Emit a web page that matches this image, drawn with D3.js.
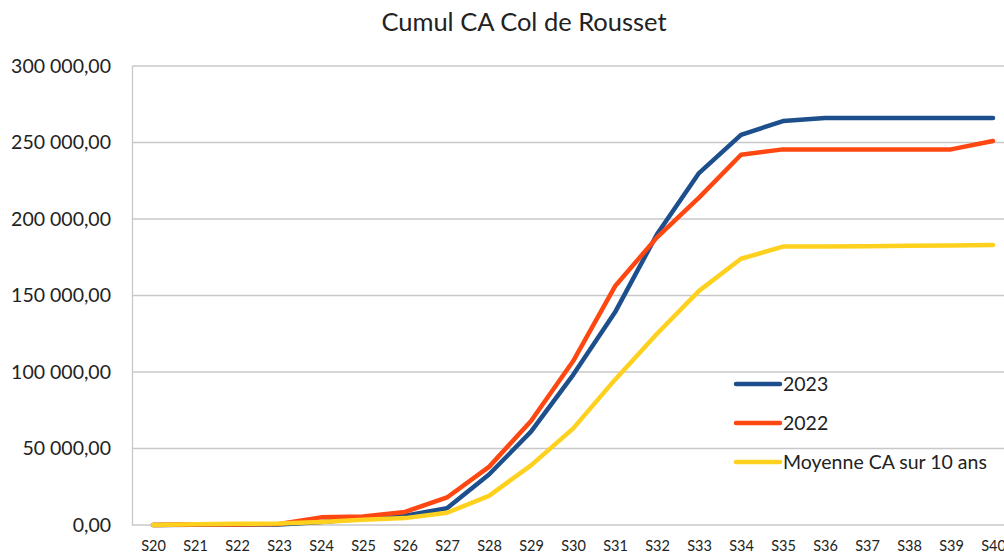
<!DOCTYPE html>
<html>
<head>
<meta charset="utf-8">
<script src="https://cdn.jsdelivr.net/npm/d3@7"></script>
<style>
  body { margin: 0; background: #fff; overflow: hidden; }
  svg { display: block; font-family: Lato, "Open Sans", sans-serif; }
</style>
</head>
<body>
<div id="chart"></div>
<script>
// weeks on the x axis
let weeks = ["S20", "S21", "S22", "S23", "S24", "S25", "S26", "S27", "S28", "S29", "S30",
             "S31", "S32", "S33", "S34", "S35", "S36", "S37", "S38", "S39", "S40"]

// cumulative turnover per series
let ca2023 = [0, 200, 300, 400, 2000, 4000, 6000, 11000, 33000, 61000, 98000,
              139000, 190000, 230000, 255000, 264000, 266000, 266000, 266000, 266000, 266000]
let ca2022 = [0, 300, 400, 700, 5000, 5500, 8500, 18000, 38000, 68000, 107000,
              156000, 188000, 214000, 242000, 245500, 245500, 245500, 245500, 245500, 251000]
let caMoyenne = [0, 500, 800, 1000, 2000, 3500, 4500, 8000, 19000, 39000, 63000,
                 95000, 125000, 153000, 174000, 182000, 182000, 182200, 182500, 182700, 183000]

let yTicks = [0, 50000, 100000, 150000, 200000, 250000, 300000]
let seriesNames = ["2023", "2022", "Moyenne CA sur 10 ans"]
let seriesColors = ["#1c4f8c", "#ff4712", "#ffd11f"]

let width = 1004, height = 555
let margin = {top: 66, right: -10, bottom: 30, left: 132}

let svg = d3.select("#chart").append("svg")
    .attr("width", width)
    .attr("height", height)

let x = d3.scalePoint()
    .domain(weeks)
    .range([margin.left, width - margin.right])
    .padding(0.5)

let y = d3.scaleLinear()
    .domain([0, 300000])
    .range([height - margin.bottom, margin.top])

let fmt = v => d3.format(",.2f")(v).replace(/,/g, " ").replace(".", ",")

// title
svg.append("text")
    .attr("x", 524)
    .attr("y", 31)
    .attr("text-anchor", "middle")
    .attr("font-size", 25.5)
    .attr("fill", "#222")
    .text("Cumul CA Col de Rousset")

// gridlines
svg.append("g")
    .selectAll("line")
    .data(yTicks)
    .join("line")
    .attr("x1", margin.left)
    .attr("x2", width)
    .attr("y1", d => y(d))
    .attr("y2", d => y(d))
    .attr("stroke", "#c8c8c8")
    .attr("stroke-width", 1.3)

// y axis
let yAxis = svg.append("g")
    .attr("transform", `translate(${margin.left},0)`)
    .call(d3.axisLeft(y).tickValues(yTicks).tickFormat(fmt).tickSize(0).tickPadding(21))
yAxis.select(".domain").attr("stroke", "#c8c8c8").attr("stroke-width", 1.3)
yAxis.selectAll("text").attr("font-size", 19.5).attr("fill", "#222").attr("font-family", "Lato, sans-serif")

// x axis
let xAxis = svg.append("g")
    .attr("transform", `translate(0,${height - margin.bottom})`)
    .call(d3.axisBottom(x).tickSize(0).tickPadding(16))
xAxis.select(".domain").remove()
xAxis.selectAll("text").attr("font-size", 14.5).attr("fill", "#222").attr("font-family", "Lato, sans-serif")

// lines
let line = d3.line()
    .x((d, i) => x(weeks[i]))
    .y(d => y(d))

let allSeries = [ca2023, ca2022, caMoyenne]
svg.append("g")
    .selectAll("path")
    .data(allSeries)
    .join("path")
    .attr("d", d => line(d))
    .attr("fill", "none")
    .attr("stroke", (d, i) => seriesColors[i])
    .attr("stroke-width", 4.5)
    .attr("stroke-linejoin", "round")
    .attr("stroke-linecap", "round")

// legend
let legend = svg.append("g")
    .attr("transform", "translate(736,384)")
let items = legend.selectAll("g")
    .data(seriesNames)
    .join("g")
    .attr("transform", (d, i) => `translate(0,${i * 39})`)
items.append("line")
    .attr("x1", 0).attr("x2", 44)
    .attr("stroke", (d, i) => seriesColors[i])
    .attr("stroke-width", 4.5)
    .attr("stroke-linecap", "round")
items.append("text")
    .attr("x", 47)
    .attr("dy", "0.35em")
    .attr("font-size", 19.5)
    .attr("fill", "#222")
    .text(d => d)
</script>
</body>
</html>
